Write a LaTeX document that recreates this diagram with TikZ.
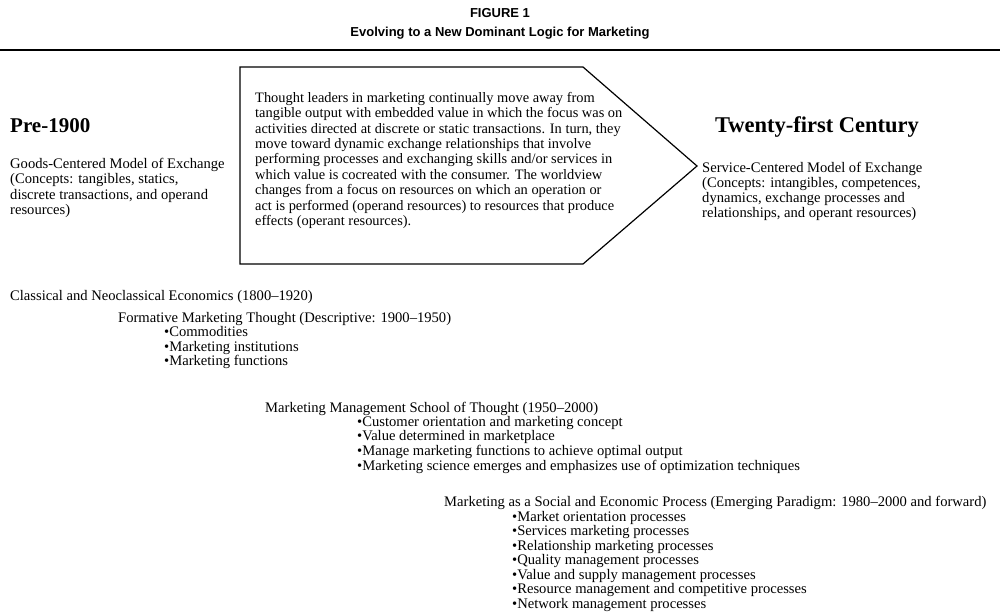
\documentclass[tikz,border=0pt]{standalone}
\usepackage{fontspec}
\setmainfont{Liberation Serif}
\newfontfamily\headsans{Liberation Sans}
\begin{document}
\begin{tikzpicture}[x=1pt,y=-1pt,
  title/.style={anchor=base, inner sep=0pt, font=\headsans\bfseries\fontsize{13}{14}\selectfont},
  era/.style={anchor=base west, inner sep=0pt, font=\bfseries\fontsize{#1}{24}\selectfont},
  line/.style={anchor=base west, inner sep=0pt, font=\fontsize{14.6}{14.6}\selectfont},
  block/.style={anchor=north west, inner sep=0pt, align=left, font=\fontsize{14.6}{#1}\selectfont},
  block/.default=14.5,
  arrowbox/.style={draw, line width=1.2pt, line join=miter},
  rule/.style={line width=1.8pt}]
\useasboundingbox (0,0) rectangle (1000,615);
% title
\node[title] (fig) at (500,18) {FIGURE 1};
\node[title] (ttl) at (500,37) {Evolving to a New Dominant Logic for Marketing};
\coordinate (rl) at (0,50);
\coordinate (rr) at (1000,50);
\draw[rule] (rl) -- (rr);
% arrow
\coordinate (a1) at (240,67);
\coordinate (a2) at (583,67);
\coordinate (a3) at (697,166);
\coordinate (a4) at (583,264);
\coordinate (a5) at (240,264);
\draw[arrowbox] (a1) -- (a2) -- (a3) -- (a4) -- (a5) -- cycle;
\node[block=15.4, font=\fontsize{14.4}{15.4}\selectfont] (boxtext) at (255,{102-10.78}) {\strut Thought leaders in marketing continually move away from\\
tangible output with embedded value in which the focus was on\\
activities directed at discrete or static transactions. In turn, they\\
move toward dynamic exchange relationships that involve\\
performing processes and exchanging skills and/or services in\\
which value is cocreated with the consumer. The worldview\\
changes from a focus on resources on which an operation or\\
act is performed (operand resources) to resources that produce\\
effects (operant resources).};
% left
\node[era=21] (pre) at (10,132) {Pre-1900};
\node[block=15.5] (goods) at (10,{168-10.85}) {\strut Goods-Centered Model of Exchange\\
(Concepts: tangibles, statics,\\
discrete transactions, and operand\\
resources)};
% right
\node[era=22.5, anchor=base] (tfc) at (817,132) {Twenty-first Century};
\node[block=15.1] (serv) at (702,{172-10.57}) {\strut Service-Centered Model of Exchange\\
(Concepts: intangibles, competences,\\
dynamics, exchange processes and\\
relationships, and operant resources)};
% lower
\node[line] (cls) at (10,300) {Classical and Neoclassical Economics (1800--1920)};
\node[line] (form) at (118,322) {Formative Marketing Thought (Descriptive: 1900--1950)};
\node[block=14] (formb) at (164,{336-9.8}) {\strut •Commodities\\
•Marketing institutions\\
•Marketing functions};
\node[line] (mm) at (265,412) {Marketing Management School of Thought (1950--2000)};
\node[block=14.6] (mmb) at (357,{426-10.22}) {\strut •Customer orientation and marketing concept\\
•Value determined in marketplace\\
•Manage marketing functions to achieve optimal output\\
•Marketing science emerges and emphasizes use of optimization techniques};
\node[line] (soc) at (444,506) {Marketing as a Social and Economic Process (Emerging Paradigm: 1980--2000 and forward)};
\node[block=14.5] (socb) at (512,{521-10.15}) {\strut •Market orientation processes\\
•Services marketing processes\\
•Relationship marketing processes\\
•Quality management processes\\
•Value and supply management processes\\
•Resource management and competitive processes\\
•Network management processes};
\end{tikzpicture}
\end{document}
